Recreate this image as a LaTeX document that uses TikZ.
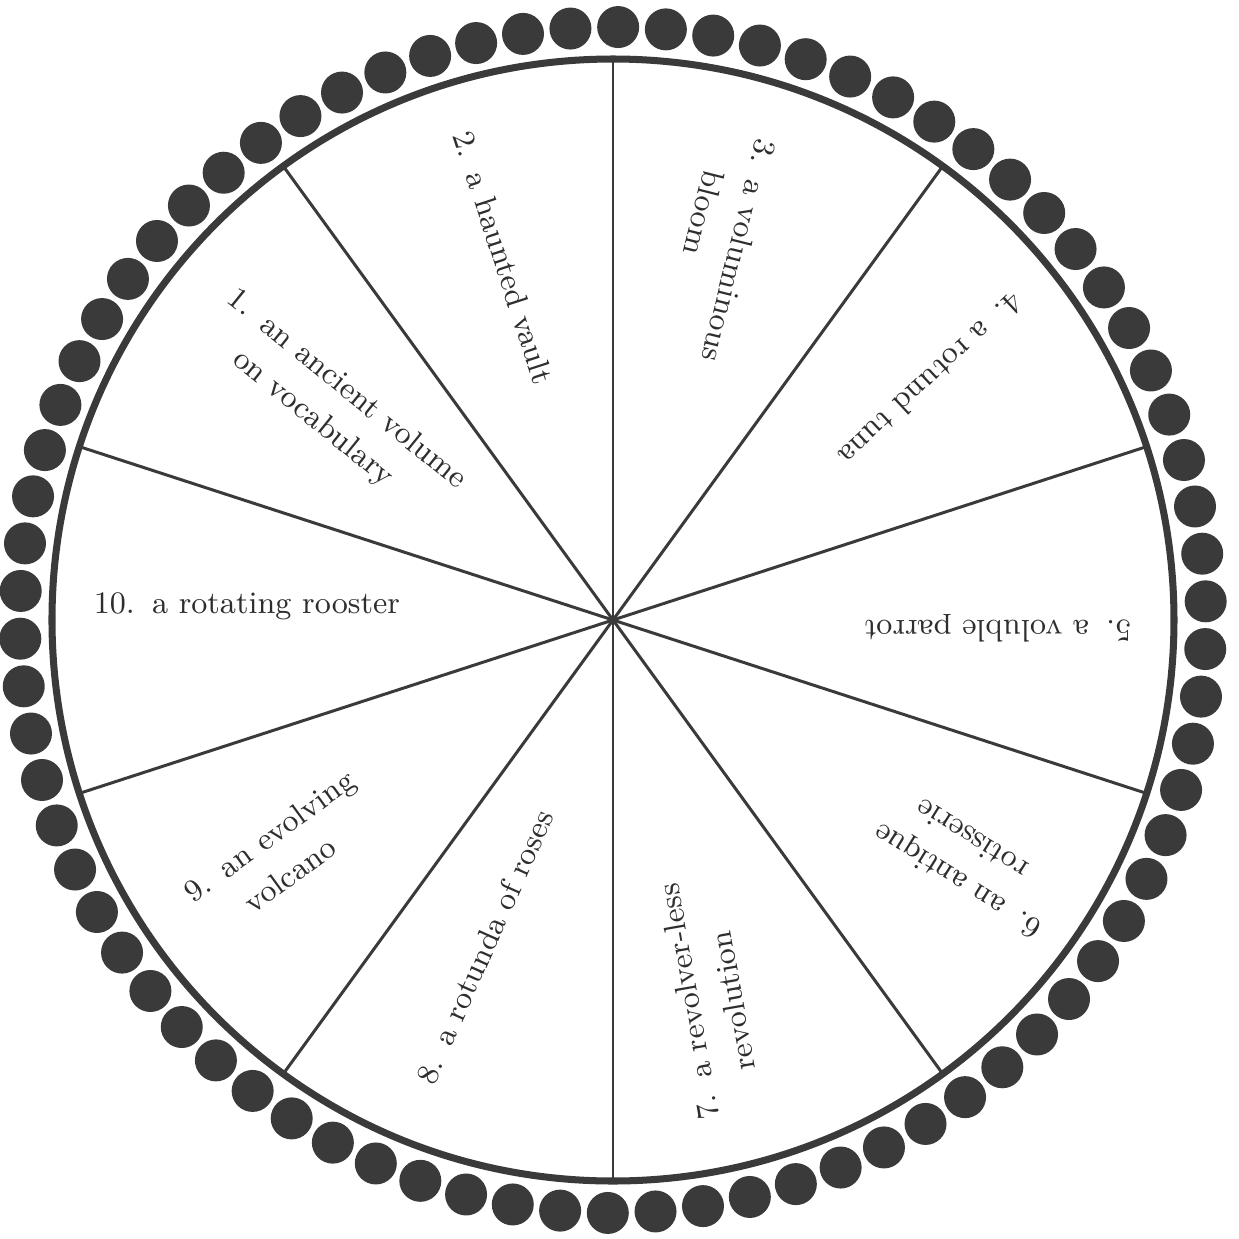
\documentclass[tikz,border=0pt]{standalone}
\usepackage{xcolor}
\usepackage{tikz}

\definecolor{ink}{HTML}{3A3A3A}
\definecolor{txt}{HTML}{2E2E2E}
\tikzset{
  rim/.style={draw=ink, line width=2pt},
  spoke/.style={draw=ink, line width=0.85pt},
  bead/.style={fill=ink},
  lbl/.style={font=\fontsize{8.9}{12.4}\selectfont, text=txt, inner sep=0pt, anchor=base west}
}
\newcommand{\entry}[2]{\begin{tabular}[t]{@{}l@{\hspace{0.55em}}l@{}}#1 & #2\end{tabular}}

\begin{document}
\begin{tikzpicture}[x=0.1mm, y=0.1mm]
  \useasboundingbox (-613,-619) rectangle (626,620);
  \coordinate (O) at (0,0);

  % --- rim and spokes ---
  \draw[rim] (O) circle (561);
  \foreach \a in {18,54,...,342}
    \draw[spoke] (O) -- (\a:561);

  % --- beads round the rim (78) ---
  \foreach \k in {0,...,77}
    \fill[bead] ({89.5+360/78*\k}:593) circle (21);

  % --- labels, read from the rim inwards ---
  \foreach \p/\r/\rot/\n/\t in {
      140.6/502/321/1/{an ancient volume\\ & on vocabulary},
      108.3/511/288/2/{a haunted vault},
      73.4/504/256/3/{a voluminous\\ & bloom},
      39.6/518/223/4/{a rotund tuna},
      0/519/180/5/{a voluble parrot},
      324.8/527/148/6/{an antique\\ & rotisserie},
      282.1/510/100/7/{a revolver-less\\ & revolution},
      249.0/500/66/8/{a rotunda of roses},
      214.1/507/36/9/{an evolving\\ & volcano},
      179.3/520/0/10/{a rotating rooster}}
    \node[lbl, rotate=\rot] (l\n) at (\p:\r) {\entry{\n.}{\t}};
\end{tikzpicture}
\end{document}
